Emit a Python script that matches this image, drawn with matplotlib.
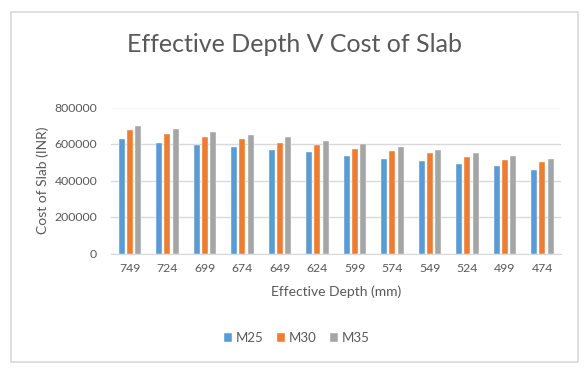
import numpy as np
import matplotlib
matplotlib.use('Agg')
import matplotlib.pyplot as plt
from matplotlib.patches import Rectangle

plt.rcParams['font.family'] = ['Lato', 'DejaVu Sans']

# data
depths = ['749', '724', '699', '674', '649', '624', '599', '574', '549', '524', '499', '474']
m25 = [628000, 608000, 595000, 581000, 568000, 555000, 535000, 520000, 507000, 493000, 480000, 460000]
m30 = [674000, 655000, 641000, 628000, 608000, 595000, 575000, 560000, 548000, 528000, 515000, 502000]
m35 = [696000, 681000, 668000, 648000, 636000, 614000, 600000, 581000, 568000, 548000, 535000, 520000]
series = ['M25', 'M30', 'M35']
yticks = [0, 200000, 400000, 600000, 800000]

cols = ['#5B9BD5', '#ED7D31', '#A5A5A5']
txt = '#595959'

fig = plt.figure(figsize=(5.87, 3.76), dpi=100)
fig.patches.append(Rectangle((11 / 587, 1 - 362 / 376), 567 / 587, 350 / 376,
                             transform=fig.transFigure, fill=False,
                             edgecolor='#D9D9D9', lw=1.2))
ax = fig.add_axes([111 / 587, 1 - 253.5 / 376, 450 / 587, 146 / 376])

x = np.arange(len(depths))
w = 0.16
step = 0.22
for k, vals in enumerate([m25, m30, m35]):
    ax.bar(x + (k - 1) * step, vals, width=w, color=cols[k], label=series[k],
           edgecolor='white', linewidth=0.3, zorder=3)

ax.set_xlim(-0.5, len(depths) - 0.5)
ax.set_ylim(0, 800000)
ax.set_yticks(yticks)
ax.set_yticklabels([str(v) for v in yticks])
ax.set_xticks(x)
ax.set_xticklabels(depths)
ax.tick_params(length=0, labelsize=8.8, labelcolor=txt)
ax.tick_params(axis='x', pad=7)
ax.tick_params(axis='y', pad=10)
ax.grid(axis='y', color='#D9D9D9', lw=1, zorder=0)
for s in ['top', 'right', 'left']:
    ax.spines[s].set_visible(False)
ax.spines['bottom'].set_color('#D9D9D9')

ax.set_xlabel('Effective Depth (mm)', fontsize=10, color=txt, labelpad=8)
ax.set_ylabel('Cost of Slab (INR)', fontsize=10, color=txt, labelpad=4)

fig.text(295 / 587, 1 - 44 / 376, 'Effective Depth V Cost of Slab',
         ha='center', va='center', fontsize=18, color=txt)

fig.legend(loc='center', bbox_to_anchor=(297 / 587, 1 - 338 / 376), ncol=3,
           frameon=False, fontsize=9.5, handlelength=0.6, handleheight=0.6,
           handletextpad=0.3, columnspacing=1.0, labelcolor=txt)

fig.savefig('out.png', dpi=100)
